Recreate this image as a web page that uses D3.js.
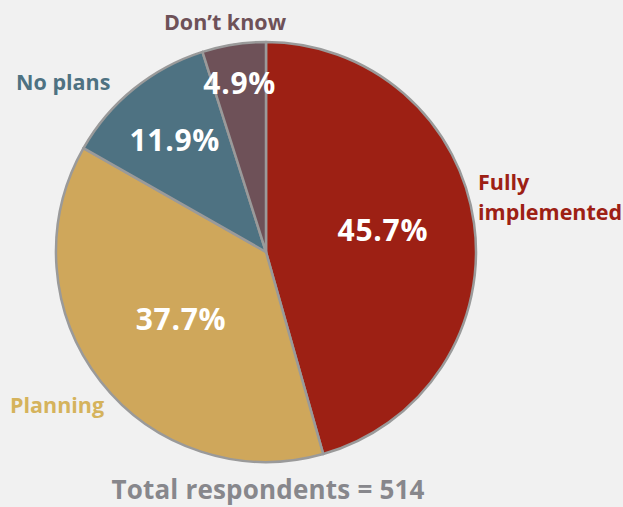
<!DOCTYPE html>
<html>
<head>
<meta charset="utf-8">
<script src="https://cdn.jsdelivr.net/npm/d3@7"></script>
<style>
  html, body { margin: 0; padding: 0; background: #f1f1f1; }
  svg { display: block; font-family: "Open Sans", "Noto Sans", sans-serif; font-weight: 700; }
</style>
</head>
<body>
<svg id="chart" width="623" height="507"></svg>
<script>
// Survey responses (share of respondents, %)
const categories = ["Fully implemented", "Planning", "No plans", "Don\u2019t know"];
const shares = [45.7, 37.7, 11.9, 4.9];
const totalRespondents = 514;

const colors = ["#9d2014", "#cfa75b", "#4e7282", "#6e5158"];
const labelColors = ["#9d2014", "#d5b35c", "#4e7282", "#6e5158"];

const cx = 266, cy = 252, R = 210;

const svg = d3.select("#chart");
const g = svg.append("g").attr("transform", `translate(${cx},${cy})`);

const pie = d3.pie().sort(null).value(d => d.value);
const arcs = pie(categories.map((c, i) => ({ name: c, value: shares[i], i })));
const arc = d3.arc().innerRadius(0).outerRadius(R);

g.selectAll("path.slice")
  .data(arcs)
  .join("path")
  .attr("class", "slice")
  .attr("d", arc)
  .attr("fill", d => colors[d.data.i])
  .attr("stroke", "#9a9a9a")
  .attr("stroke-width", 2.5)
  .attr("stroke-linejoin", "round");

// Percentage labels: placed along each slice's mid-angle, with a small nudge
const pctPlace = [
  { r: 118, nudge: [0, -6] },
  { r: 108, nudge: [0, 0] },
  { r: 145, nudge: [0, 0] },
  { r: 172, nudge: [0, 0] }
];
g.selectAll("text.pct")
  .data(arcs)
  .join("text")
  .attr("class", "pct")
  .attr("text-anchor", "middle")
  .attr("dominant-baseline", "central")
  .attr("fill", "#ffffff")
  .attr("font-size", 30)
  .attr("letter-spacing", 0.7)
  .attr("x", d => {
    const a = (d.startAngle + d.endAngle) / 2, p = pctPlace[d.data.i];
    return Math.sin(a) * p.r + p.nudge[0];
  })
  .attr("y", d => {
    const a = (d.startAngle + d.endAngle) / 2, p = pctPlace[d.data.i];
    return -Math.cos(a) * p.r + p.nudge[1];
  })
  .text(d => d3.format(".1f")(d.value) + "%");

// Category names outside the pie
const nameLayout = [
  { x: 478, y: 190, anchor: "start", lines: ["Fully", "implemented"] },
  { x: 10, y: 413, anchor: "start", lines: null },
  { x: 16, y: 90, anchor: "start", lines: null },
  { x: 225, y: 30, anchor: "middle", lines: null }
];

categories.forEach((c, i) => {
  const L = nameLayout[i];
  const t = svg.append("text")
    .attr("x", L.x)
    .attr("y", L.y)
    .attr("text-anchor", L.anchor)
    .attr("fill", labelColors[i])
    .attr("font-size", 21.5);
  (L.lines || [c]).forEach((line, k) => {
    t.append("tspan").attr("x", L.x).attr("dy", k === 0 ? 0 : 30).text(line);
  });
});

svg.append("text")
  .attr("x", 268)
  .attr("y", 499)
  .attr("text-anchor", "middle")
  .attr("fill", "#87878c")
  .attr("font-size", 26)
  .attr("letter-spacing", 0.2)
  .text(`Total respondents = ${totalRespondents}`);
</script>
</body>
</html>
